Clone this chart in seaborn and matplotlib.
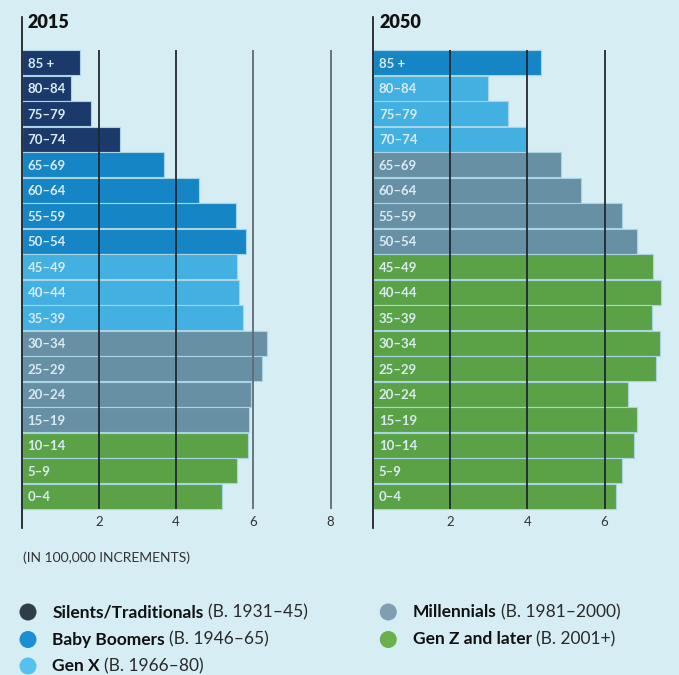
import matplotlib
matplotlib.use("Agg")
import matplotlib.pyplot as plt
import seaborn as sns
import pandas as pd

# data
ages = ["85 +", "80–84", "75–79", "70–74", "65–69", "60–64", "55–59", "50–54", "45–49",
        "40–44", "35–39", "30–34", "25–29", "20–24", "15–19", "10–14", "5–9", "0–4"]
pop_2015 = [1.51, 1.29, 1.80, 2.55, 3.69, 4.60, 5.54, 5.81, 5.59,
            5.63, 5.73, 6.36, 6.23, 5.95, 5.90, 5.87, 5.59, 5.19]
pop_2050 = [4.36, 2.97, 3.51, 3.96, 4.88, 5.40, 6.45, 6.83, 7.25,
            7.47, 7.23, 7.44, 7.34, 6.60, 6.84, 6.76, 6.44, 6.29]
gens = ["Silents/Traditionals", "Baby Boomers", "Gen X", "Millennials", "Gen Z and later"]
gen_years = ["(B. 1931–45)", "(B. 1946–65)", "(B. 1966–80)", "(B. 1981–2000)", "(B. 2001+)"]
gen_2015 = [gens[0]] * 4 + [gens[1]] * 4 + [gens[2]] * 3 + [gens[3]] * 4 + [gens[4]] * 3
gen_2050 = [gens[1]] * 1 + [gens[2]] * 3 + [gens[3]] * 4 + [gens[4]] * 10
ticks = [2, 4, 6, 8]

bar_colors = ["#1b3a6b", "#1585c6", "#43b0e2", "#6790a5", "#5ba247"]
dot_colors = ["#2f3d48", "#1a8fd4", "#56c0ee", "#7f9fb0", "#6ab04c"]
palette = dict(zip(gens, bar_colors))

bg = "#d5edf3"
sns.set_theme(style="white")
plt.rcParams["font.family"] = ["Lato", "DejaVu Sans"]

W, H = 679, 675
fig = plt.figure(figsize=(W / 100, H / 100), dpi=100, facecolor=bg)


def px_axes(left, top, right, bottom):
    return fig.add_axes([left / W, 1 - bottom / H, (right - left) / W, (bottom - top) / H])


panels = [
    ("2015", pop_2015, gen_2015, 21.7, ["#1e2a30", "#1e2a30", "#5f6b70", "#5f6b70"]),
    ("2050", pop_2050, gen_2050, 373.0, ["#1e2a30"] * 4),
]
unit = 38.6
for title, vals, gen, x0, gcols in panels:
    ax = px_axes(x0, 17, x0 + 8.4 * unit, 528)
    ax.set_facecolor("none")
    df = pd.DataFrame({"age": ages, "value": vals, "gen": gen})
    sns.barplot(data=df, x="value", y="age", hue="gen", palette=palette, dodge=False,
                order=ages, orient="h", width=0.965, edgecolor="#a8d4e4", linewidth=0.8,
                saturation=1, legend=False, ax=ax)
    ax.set_xlim(0, 8.4)
    ax.set_ylim(18.245, -1.794)
    for t, c in zip(ticks, gcols):
        ax.vlines(t, -0.5, 17.5, color=c, lw=1.3, zorder=5)
    for i, lab in enumerate(ages):
        ax.text(0.155, i + 0.04, lab, va="center", ha="left", fontsize=9.5,
                fontweight="bold", color="#d9ebf2", zorder=6)
    for s in ["top", "right", "bottom"]:
        ax.spines[s].set_visible(False)
    ax.spines["left"].set_color("#111111")
    ax.spines["left"].set_linewidth(1.2)
    ax.set_xticks(ticks)
    ax.set_xticklabels([str(t) for t in ticks])
    ax.tick_params(axis="x", length=0, pad=-9, labelsize=9.5, labelcolor="#333333")
    ax.set_yticks([])
    ax.set_xlabel("")
    ax.set_ylabel("")
    fig.text((x0 + 6.0) / W, 1 - 23 / H, title, fontsize=13, fontweight="heavy",
             color="#111111", va="center", ha="left")

fig.text(22.7 / W, 1 - 557.7 / H, "(IN 100,000 INCREMENTS)", fontsize=10,
         color="#333333", va="center", ha="left")

# legend
lax = fig.add_axes([0, 0, 1, 1])
lax.set_xlim(0, W)
lax.set_ylim(H, 0)
lax.axis("off")
lax.patch.set_alpha(0)
slots = [(28, 612), (28, 639.5), (28, 666), (388.3, 612), (388.3, 639.5)]
renderer = fig.canvas.get_renderer()
for k, (x, y) in enumerate(slots):
    lax.scatter([x], [y], s=150, color=dot_colors[k], edgecolor="none", zorder=3)
    t1 = lax.text(x + 24.5, y, gens[k], fontsize=12.5, fontweight="bold", color="#111111",
                  va="center", ha="left")
    bb = t1.get_window_extent(renderer=renderer)
    fig.text((bb.x1 + 4) / W, 1 - y / H, gen_years[k], fontsize=12.5,
             color="#2a2a2a", va="center", ha="left")

fig.savefig("out.png", dpi=100, facecolor=bg)
